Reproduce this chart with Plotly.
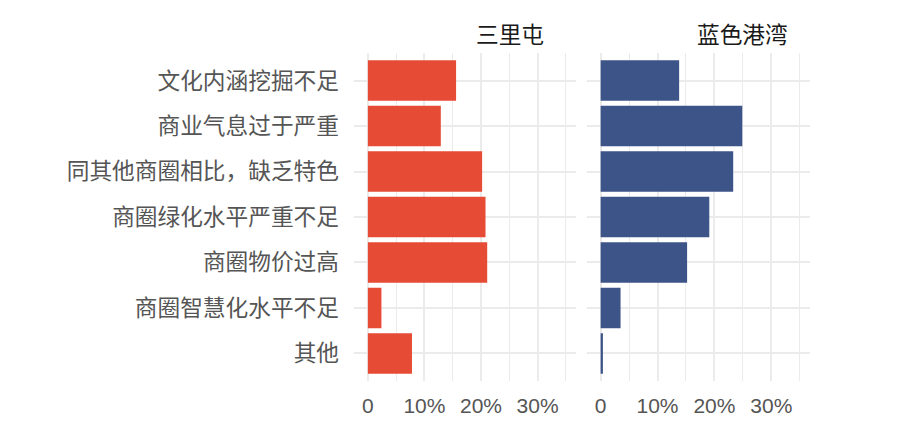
import plotly.graph_objects as go
from plotly.subplots import make_subplots

categories = ["文化内涵挖掘不足", "商业气息过于严重", "同其他商圈相比，缺乏特色",
              "商圈绿化水平严重不足", "商圈物价过高", "商圈智慧化水平不足", "其他"]
sanlitun = [0.156, 0.129, 0.202, 0.208, 0.211, 0.024, 0.078]
lansegangwan = [0.138, 0.249, 0.233, 0.191, 0.152, 0.035, 0.004]
panel_titles = ["三里屯", "蓝色港湾"]
tick_vals = [0, 0.1, 0.2, 0.3]
tick_text = ["0", "10%", "20%", "30%"]

cjk = "Noto Sans CJK SC"
grid = "#EBEBEB"
W, H = 910, 428
off = 8  # page body margin

fig = make_subplots(rows=1, cols=2, shared_yaxes=True, horizontal_spacing=0.01)

fig.add_trace(go.Bar(y=categories, x=sanlitun, orientation="h", width=0.89,
                     marker=dict(color="#E64B35", line=dict(width=0))), row=1, col=1)
fig.add_trace(go.Bar(y=categories, x=lansegangwan, orientation="h", width=0.89,
                     marker=dict(color="#3C5488", line=dict(width=0))), row=1, col=2)

xaxis_style = dict(range=[-0.0245, 0.368], tickvals=tick_vals, ticktext=tick_text,
                   showgrid=True, gridcolor=grid, gridwidth=1.5, zeroline=False,
                   showline=False, ticks="", ticklabelstandoff=10,
                   tickfont=dict(family="Liberation Sans", size=21, color="#555555"),
                   minor=dict(dtick=0.05, tick0=0, showgrid=True, gridcolor=grid, gridwidth=1.2))
yaxis_style = dict(domain=[1 - (380.7 - off) / H, 1 - (53.3 - off) / H], range=[6.6, -0.6],
                   categoryorder="array", categoryarray=categories, showgrid=True,
                   gridcolor=grid, gridwidth=1.5, zeroline=False, ticks="")
fig.update_layout(
    xaxis=dict(domain=[(354 - off) / W, (576 - off) / W], **xaxis_style),
    xaxis2=dict(domain=[(586.7 - off) / W, (810 - off) / W], **xaxis_style),
    yaxis=dict(ticklabelstandoff=14, tickfont=dict(family=cjk, size=22.7, color="#555555"),
               **yaxis_style),
    yaxis2=dict(showticklabels=False, **yaxis_style),
    plot_bgcolor="white",
    paper_bgcolor="white",
    showlegend=False,
    width=W,
    height=H,
    margin=dict(l=0, r=0, t=0, b=0),
)

for x_px, title in zip([510, 742], panel_titles):
    fig.add_annotation(x=(x_px - off) / W, y=1 - (33 - off) / H, xref="paper", yref="paper",
                       xanchor="center", yanchor="middle", text=title, showarrow=False,
                       font=dict(family=cjk, size=22.7, color="#1A1A1A"))

fig.write_html("out.html")
